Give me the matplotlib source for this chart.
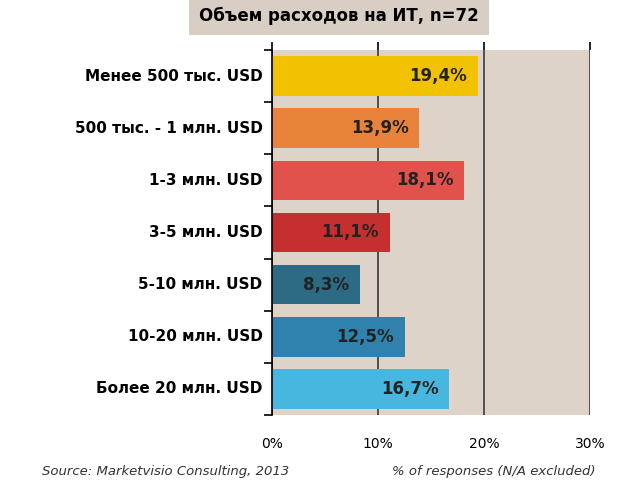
import matplotlib.pyplot as plt

categories = ["Менее 500 тыс. USD", "500 тыс. - 1 млн. USD", "1-3 млн. USD",
              "3-5 млн. USD", "5-10 млн. USD", "10-20 млн. USD", "Более 20 млн. USD"]
values = [19.4, 13.9, 18.1, 11.1, 8.3, 12.5, 16.7]
value_labels = ["19,4%", "13,9%", "18,1%", "11,1%", "8,3%", "12,5%", "16,7%"]
colors = ["#f2c200", "#e9823a", "#e2524c", "#c62f2f", "#2d6b85", "#2f82ad", "#47b7df"]
x_ticks = [0, 10, 20, 30]
x_tick_labels = ["0%", "10%", "20%", "30%"]

fig = plt.figure(figsize=(6.4, 4.91), dpi=100)
ax = fig.add_axes([0.425, 0.155, 0.497, 0.743])
ax.set_facecolor("#ddd3c9")

pos = list(range(len(categories)))
ax.barh(pos, values, height=0.76, color=colors, zorder=2)
for p, v, lab in zip(pos, values, value_labels):
    ax.text(v - 1.0, p, lab, ha="right", va="center", fontsize=12,
            fontweight="bold", color="#222222", zorder=3)

ax.set_xlim(0, 30)
ax.set_ylim(len(categories) - 0.5, -0.5)
ax.set_xticks(x_ticks)
ax.set_xticklabels(x_tick_labels, fontsize=10)
ax.xaxis.set_ticks_position("top")
ax.tick_params(axis="x", length=6, width=1.2, labeltop=False, labelbottom=True, pad=10)
ax.grid(axis="x", color="#3a3a3a", linewidth=1.2, zorder=1)
ax.set_yticks([p - 0.5 for p in pos] + [len(pos) - 0.5])
ax.set_yticklabels([])
ax.tick_params(axis="y", length=6, width=1.2)
for p, c in zip(pos, categories):
    ax.text(-0.9, p, c, ha="right", va="center", fontsize=11, fontweight="bold")
for s in ["right", "bottom", "top"]:
    ax.spines[s].set_visible(False)
ax.spines["left"].set_linewidth(1.2)

fig.text(0.53, 0.968, "Объем расходов на ИТ, n=72", ha="center", va="center",
         fontsize=12, fontweight="bold",
         bbox=dict(boxstyle="square,pad=0.6", facecolor="#d8cec4", edgecolor="none"))
fig.text(0.065, 0.04, "Source: Marketvisio Consulting, 2013", fontsize=9.5,
         style="italic", color="#333333", va="center")
fig.text(0.93, 0.04, "% of responses (N/A excluded)", fontsize=9.5,
         style="italic", color="#333333", va="center", ha="right")

fig.savefig("out.png")
